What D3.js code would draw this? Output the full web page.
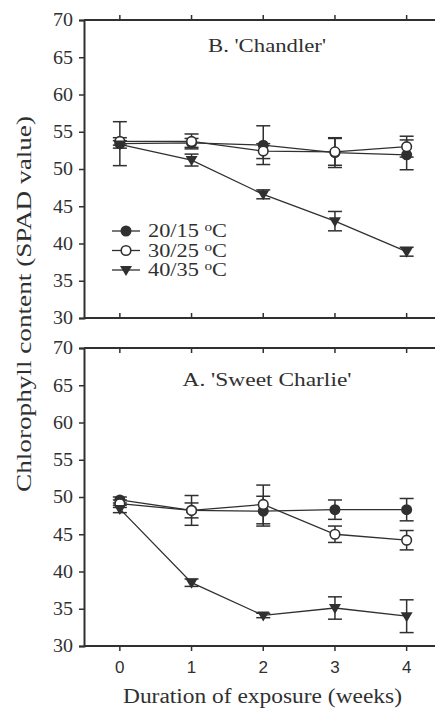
<!DOCTYPE html>
<html>
<head>
<meta charset="utf-8">
<script src="https://cdn.jsdelivr.net/npm/d3@7"></script>
<style>
  body { margin: 0; background: #fff; overflow: hidden; }
  svg { display: block; }
</style>
</head>
<body>
<div class="chart"></div>
<script>
var w = 435,
h = 709;

// data
var weeks = [0, 1, 2, 3, 4];
var yTicks = [30, 35, 40, 45, 50, 55, 60, 65, 70];
var legendLabels = ["20/15 °C", "30/25 °C", "40/35 °C"];

var chandler20 = [53.4, 53.5, 53.2, 52.2, 51.9];
var chandler20Err = [2.95, 0.6, 2.6, 2.0, 2.0];
var chandler30 = [53.7, 53.7, 52.4, 52.3, 53.0];
var chandler30Err = [0.5, 1.0, 1.0, 1.8, 1.4];
var chandler40 = [53.3, 51.2, 46.6, 43.0, 38.9];
var chandler40Err = [0.5, 0.8, 0.6, 1.3, 0.6];

var charlie20 = [49.6, 48.2, 48.1, 48.3, 48.3];
var charlie20Err = [0.4, 1.0, 2.0, 1.3, 1.5];
var charlie30 = [49.1, 48.2, 49.0, 45.0, 44.2];
var charlie30Err = [0.5, 2.0, 2.6, 1.1, 1.3];
var charlie40 = [48.4, 38.5, 34.1, 35.1, 34.0];
var charlie40Err = [0.5, 0.5, 0.3, 1.5, 2.2];

var ink = "#303030",
serif = "'Liberation Serif'",
sans = "'Liberation Sans'";

var svg = d3.select(".chart")
  .append("svg")
  .attr("width", w)
  .attr("height", h);

var xScale = d3.scaleLinear().domain([-0.5, 4.5]).range([84, 442.5]);

function panel(top, title, titleY, titleLen, series, showLegend, xLabels) {
  var yScale = d3.scaleLinear().domain([30, 70]).range([top + 298, top]);
  var g = svg.append("g");

  // frame
  g.append("line").attr("x1", xScale(-0.5)).attr("x2", xScale(4.5))
    .attr("y1", yScale(70)).attr("y2", yScale(70))
    .attr("stroke", ink).attr("stroke-width", 2);
  g.append("line").attr("x1", xScale(-0.5)).attr("x2", xScale(4.5))
    .attr("y1", yScale(30)).attr("y2", yScale(30))
    .attr("stroke", ink).attr("stroke-width", 2);

  // y axis
  var yAxis = d3.axisLeft(yScale).tickValues(yTicks).tickSize(5).tickPadding(6);
  var ya = g.append("g")
    .attr("transform", "translate(" + xScale(-0.5) + ",0)")
    .call(yAxis);
  ya.select(".domain").attr("stroke", ink).attr("stroke-width", 2);
  ya.selectAll(".tick line").attr("stroke", ink).attr("stroke-width", 1.5);
  ya.selectAll(".tick text")
    .attr("fill", ink)
    .attr("textLength", 20)
    .attr("lengthAdjust", "spacingAndGlyphs")
    .style("font-family", serif)
    .style("font-size", "18px");

  // x ticks (top and bottom borders)
  var topOut = !xLabels;
  g.selectAll(".xt-top").data(weeks).enter().append("line")
    .attr("x1", d => xScale(d)).attr("x2", d => xScale(d))
    .attr("y1", yScale(70)).attr("y2", yScale(70) + (topOut ? -5 : 5))
    .attr("stroke", ink).attr("stroke-width", 1.5);
  g.selectAll(".xt-bot").data(weeks).enter().append("line")
    .attr("x1", d => xScale(d)).attr("x2", d => xScale(d))
    .attr("y1", yScale(30)).attr("y2", yScale(30) + (topOut ? -5 : 5))
    .attr("stroke", ink).attr("stroke-width", 1.5);

  if (xLabels) {
    g.selectAll(".xl").data(weeks).enter().append("text")
      .attr("x", d => xScale(d))
      .attr("y", yScale(30) + 27)
      .attr("text-anchor", "middle")
      .attr("fill", ink)
      .style("font-family", sans)
      .style("font-size", "17px")
      .text(d => d);
  }

  g.append("text")
    .attr("x", 267)
    .attr("y", titleY)
    .attr("text-anchor", "middle")
    .attr("fill", ink)
    .attr("textLength", titleLen)
    .attr("lengthAdjust", "spacingAndGlyphs")
    .style("font-family", serif)
    .style("font-size", "19px")
    .text(title);

  var line = d3.line().x((d, i) => xScale(weeks[i])).y(d => yScale(d));

  series.forEach(s => {
    g.append("path")
      .attr("d", line(s.values))
      .attr("fill", "none")
      .attr("stroke", ink)
      .attr("stroke-width", 1.3);
  });

  series.forEach(s => {
    var eb = g.append("g");
    s.values.forEach((v, i) => {
      var x = xScale(weeks[i]);
      var y1 = yScale(v + s.err[i]), y2 = yScale(v - s.err[i]);
      eb.append("line").attr("x1", x).attr("x2", x).attr("y1", y1).attr("y2", y2)
        .attr("stroke", ink).attr("stroke-width", 1.5);
      [y1, y2].forEach(y => {
        eb.append("line").attr("x1", x - 7).attr("x2", x + 7).attr("y1", y).attr("y2", y)
          .attr("stroke", ink).attr("stroke-width", 1.5);
      });
    });
  });

  series.forEach(s => {
    s.values.forEach((v, i) => drawMarker(g, s.kind, xScale(weeks[i]), yScale(v)));
  });

  if (showLegend) {
    var lg = g.append("g");
    series.forEach((s, i) => {
      var y = top + 211 + i * 19.5;
      lg.append("line").attr("x1", 112).attr("x2", 140).attr("y1", y).attr("y2", y)
        .attr("stroke", ink).attr("stroke-width", 1.3);
      drawMarker(lg, s.kind, 126, y);
      var t = lg.append("text")
        .attr("x", 148).attr("y", y + 6)
        .attr("fill", ink)
        .attr("textLength", 79)
        .attr("lengthAdjust", "spacingAndGlyphs")
        .style("font-family", serif)
        .style("font-size", "19px");
      var parts = legendLabels[i].split(" °");
      t.append("tspan").text(parts[0] + " ");
      t.append("tspan").attr("dy", -6).style("font-size", "13px").text("o");
      t.append("tspan").attr("dy", 6).text(parts[1]);
    });
  }
}

function drawMarker(g, kind, x, y) {
  if (kind === "filled") {
    g.append("circle").attr("cx", x).attr("cy", y).attr("r", 5.5).attr("fill", ink);
  } else if (kind === "open") {
    g.append("circle").attr("cx", x).attr("cy", y).attr("r", 4.8)
      .attr("fill", "#fff").attr("stroke", ink).attr("stroke-width", 1.6);
  } else {
    g.append("path")
      .attr("d", "M" + (x - 6) + "," + (y - 4) + "L" + (x + 6) + "," + (y - 4) + "L" + x + "," + (y + 6) + "Z")
      .attr("fill", ink);
  }
}

panel(20, "B. 'Chandler'", 52, 118, [
  { kind: "filled", values: chandler20, err: chandler20Err },
  { kind: "open", values: chandler30, err: chandler30Err },
  { kind: "tri", values: chandler40, err: chandler40Err }
], true, false);

panel(348, "A. 'Sweet Charlie'", 386, 169, [
  { kind: "filled", values: charlie20, err: charlie20Err },
  { kind: "open", values: charlie30, err: charlie30Err },
  { kind: "tri", values: charlie40, err: charlie40Err }
], false, true);

svg.append("text")
  .attr("transform", "translate(31,304) rotate(-90)")
  .attr("text-anchor", "middle")
  .attr("fill", ink)
  .attr("textLength", 376)
  .attr("lengthAdjust", "spacingAndGlyphs")
  .style("font-family", serif)
  .style("font-size", "20px")
  .text("Chlorophyll content (SPAD value)");

svg.append("text")
  .attr("x", 262.5)
  .attr("y", 703)
  .attr("text-anchor", "middle")
  .attr("fill", ink)
  .attr("textLength", 279)
  .attr("lengthAdjust", "spacingAndGlyphs")
  .style("font-family", serif)
  .style("font-size", "20px")
  .text("Duration of exposure (weeks)");
</script>
</body>
</html>
